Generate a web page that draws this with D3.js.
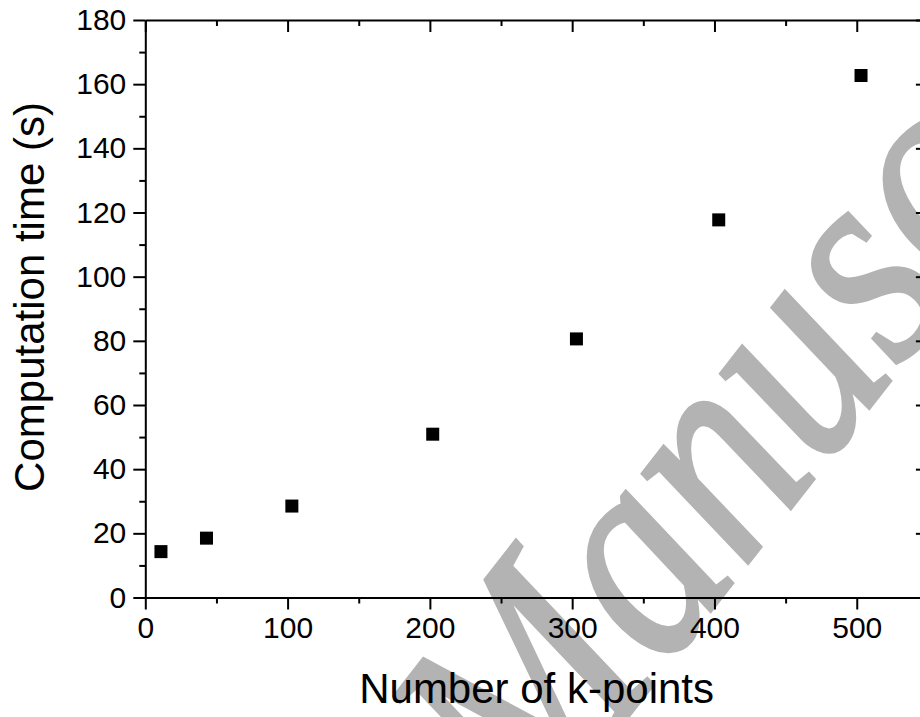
<!DOCTYPE html>
<html>
<head>
<meta charset="utf-8">
<script src="https://cdn.jsdelivr.net/npm/d3@7"></script>
<style>
    body { margin: 0; background: #fff; }
    svg text { font-family: "Liberation Sans", Arial, sans-serif; }
</style>
</head>
<body>
<svg class="chart" width="920" height="717"></svg>
<script>

// k-point counts and timings
const kpoints = [11, 43, 103, 202, 303, 403, 503];
const times = [14.3, 18.5, 28.5, 50.9, 80.6, 117.7, 162.7];

const xTicks = [0, 100, 200, 300, 400, 500];
const yTicks = [0, 20, 40, 60, 80, 100, 120, 140, 160, 180];

const xLabel = 'Number of k-points';
const yLabel = 'Computation time (s)';

const svg = d3.select('svg.chart');

const plotLeft = 145.3, plotRight = 927.9, plotTop = 20, plotBottom = 597.5;

let x = d3.scaleLinear().domain([0, 550]).range([plotLeft, plotRight]);
let y = d3.scaleLinear().domain([0, 180]).range([plotBottom, plotTop]);

// watermark behind everything
svg.append('text')
    .attr('transform', 'translate(533,838) rotate(-52) scale(0.85,1)')
    .style('font-family', '"Liberation Serif", "Times New Roman", serif')
    .style('font-style', 'italic')
    .style('font-size', '300px')
    .attr('fill', '#b3b3b3')
    .attr('stroke', '#b3b3b3')
    .attr('stroke-width', 4)
    .text('Manuscript');

// sign = 1 for outward ticks, -1 for inward ones
function drawAxis(makeAxis, tx, ty, major, minor, labels, sign) {

    let g = svg.append('g')
        .attr('transform', `translate(${tx},${ty})`);

    g.append('g')
        .call(makeAxis().tickValues(minor).tickSize(6 * sign).tickFormat(''))
        .call(s => s.select('.domain').remove());

    g.append('g')
        .call(makeAxis().tickValues(major).tickSize(12 * sign).tickSizeOuter(0)
            .tickPadding(7).tickFormat(labels ? d3.format('d') : ''));

    g.selectAll('line, path')
        .attr('stroke', '#000')
        .attr('stroke-width', 2);
    g.selectAll('text')
        .attr('fill', '#000')
        .style('font-size', '30px');
}

const xMinor = d3.range(50, 551, 100);
const yMinor = d3.range(10, 180, 20);

drawAxis(() => d3.axisBottom(x), 0, plotBottom, xTicks, xMinor, true, 1);
drawAxis(() => d3.axisTop(x), 0, plotTop, xTicks, xMinor, false, -1);
drawAxis(() => d3.axisLeft(y), plotLeft, 0, yTicks, yMinor, true, 1);
drawAxis(() => d3.axisRight(y), plotRight, 0, yTicks, yMinor, false, -1);

// scatter points
svg.append('g')
    .selectAll('rect')
    .data(kpoints.map((k, i) => [k, times[i]]))
    .enter()
    .append('rect')
    .attr('x', d => x(d[0]) - 6.5)
    .attr('y', d => y(d[1]) - 6.5)
    .attr('width', 13)
    .attr('height', 13)
    .attr('fill', '#000');

// axis titles
svg.append('text')
    .attr('x', (plotLeft + plotRight) / 2)
    .attr('y', 703)
    .attr('text-anchor', 'middle')
    .style('font-size', '42px')
    .attr('fill', '#000')
    .text(xLabel);

svg.append('text')
    .attr('transform', 'translate(44,297) rotate(-90)')
    .attr('text-anchor', 'middle')
    .style('font-size', '42px')
    .attr('fill', '#000')
    .text(yLabel);

</script>
</body>
</html>
